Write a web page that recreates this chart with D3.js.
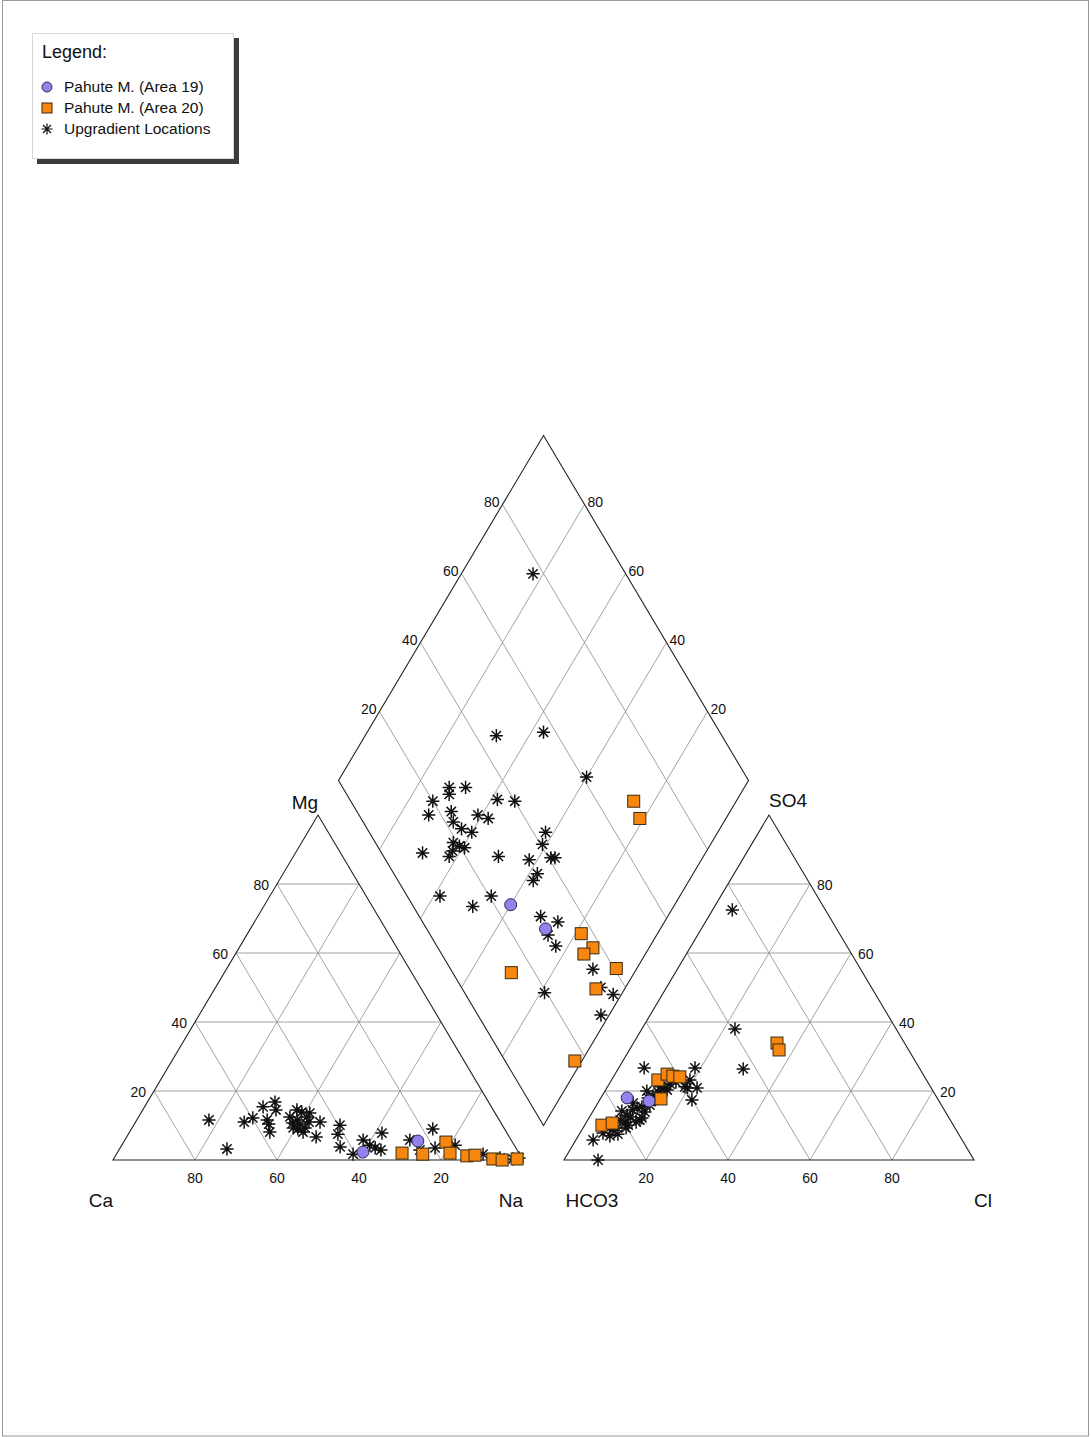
<!DOCTYPE html>
<html>
<head>
<meta charset="utf-8">
<script src="https://cdn.jsdelivr.net/npm/d3@7"></script>
<style>
  html, body { margin: 0; padding: 0; background: #fff; }
  svg { display: block; font-family: "Liberation Sans", Arial, sans-serif; }
</style>
</head>
<body>
<script>
// ---------------- DATA ----------------
const seriesNames = ["Pahute M. (Area 19)", "Pahute M. (Area 20)", "Upgradient Locations"];
const tickValues = [20, 40, 60, 80];
const cationLabels = ["Ca", "Mg", "Na"];
const anionLabels = ["HCO3", "SO4", "Cl"];

// Cation triangle: [Na+K %, Mg %]
const cationArea19 = [[59.8, 2.3], [71.6, 5.5]];
const cationArea20 = [[69.5, 2.0], [74.7, 1.7], [78.6, 5.2], [81.2, 2.0], [85.7, 1.2], [87.6, 1.4], [92.5, 0.3], [94.9, 0.0], [98.4, 0.3]];
const cationUpgradient = [
  [17.6, 11.6], [26.2, 3.2], [26.5, 11.0], [28.0, 12.2], [28.9, 15.4], [31.1, 16.8], [32.5, 14.5],
  [31.8, 11.6], [32.8, 10.4], [34.2, 8.1], [36.9, 12.5], [38.5, 10.7], [37.6, 14.5], [39.1, 13.9],
  [41.0, 12.5], [42.3, 11.0], [42.2, 9.3], [40.6, 9.0], [39.3, 9.3], [39.1, 11.6], [41.2, 13.6],
  [45.0, 11.0], [46.2, 6.7], [50.3, 10.1], [51.1, 7.5], [53.5, 3.8], [57.7, 1.7], [58.1, 5.8],
  [60.5, 4.3], [62.2, 3.5], [63.9, 2.9], [61.7, 7.8], [69.5, 5.8], [73.4, 2.9], [73.5, 9.0],
  [76.8, 3.5], [81.3, 4.3], [89.4, 1.7], [94.1, 0.6], [97.4, 0.3], [98.7, 0.6], [40.4, 10.4], [42.3, 8.1]
];

// Anion triangle: [Cl %, SO4 %]
const anionArea19 = [[6.4, 18.0], [12.2, 17.1]];
const anionArea20 = [[35.0, 33.9], [36.5, 31.9], [11.3, 23.2], [12.7, 24.9], [14.4, 24.3], [16.2, 24.1], [14.8, 17.7], [4.2, 10.1], [6.4, 10.7]];
const anionUpgradient = [
  [4.8, 72.5], [22.7, 38.0], [30.5, 26.4], [6.2, 26.7], [18.6, 26.7], [19.6, 20.9], [22.0, 20.9],
  [22.5, 17.4], [10.2, 20.0], [15.0, 20.3], [12.8, 21.2], [13.1, 19.7], [13.5, 17.4], [11.3, 15.4],
  [8.6, 16.5], [10.3, 15.1], [9.4, 14.5], [7.0, 14.2], [8.9, 13.0], [12.9, 12.2], [9.9, 12.5],
  [9.6, 10.7], [10.6, 10.1], [9.4, 7.5], [7.7, 7.0], [4.2, 5.8], [8.3, 0.0], [12.7, 11.6],
  [13.0, 15.9], [14.2, 20.9], [8.3, 9.3], [7.9, 11.6], [12.8, 13.9], [7.4, 8.7], [12.4, 18.6],
  [14.9, 22.0], [16.0, 22.6], [12.1, 11.0], [10.5, 9.3], [11.5, 18.0], [5.6, 7.8], [18.9, 21.2], [19.1, 23.2]
];

// Diamond: [Ca+Mg %, SO4+Cl %]
const diamondArea19 = [[40, 24], [28, 29]];
const diamondArea20 = [[25, 69], [21, 68], [18.6, 37], [13.7, 37.8], [15, 34.7], [30, 14.3], [5, 40.5], [7, 32.6], [1.7, 17]];
const diamondUpgradient = [
  [82.5, 77.4], [68, 45], [57, 57], [40, 61], [72, 26], [71, 25], [68, 30], [74, 20], [73, 17],
  [68, 23], [58.5, 36], [54, 40], [61, 29], [58, 31], [66, 22], [63, 23], [60, 25], [42, 43],
  [41, 40.5], [37, 40.6], [36, 41.6], [42, 35], [50, 28], [63, 19], [61, 20], [59.5, 21],
  [62, 17.6], [62, 16], [69, 10], [38, 35], [38, 33], [58.5, 8], [46, 20.5], [49, 14.5],
  [31, 29.6], [26, 33], [26.5, 28.7], [23, 29], [10.6, 34.7], [19, 19.5], [6, 34], [2, 36], [2, 30]
];

// ---------------- LAYOUT ----------------
const W = 1091, H = 1437;
const baseY = 1160, leftX = 113, gapUnits = 10;
const hx = d3.scaleLinear().domain([0, 100]).range([0, 410]);  // horizontal extent of 100 %
const vy = d3.scaleLinear().domain([0, 100]).range([0, 345]);  // vertical extent of 100 %
const rightX = leftX + hx(100 + gapUnits);
const diaBX = leftX + hx(100 + gapUnits / 2), diaBY = baseY - vy(gapUnits);

const cat = (na, mg) => [leftX + hx(na + mg / 2), baseY - vy(mg)];
const ani = (cl, so4) => [rightX + hx(cl + so4 / 2), baseY - vy(so4)];
const dia = (cm, sc) => [diaBX + hx((sc - cm) / 2), diaBY - vy(sc + cm)];

const svg = d3.select("body").append("svg").attr("width", W).attr("height", H);
svg.append("rect").attr("x", 2.5).attr("y", 0.5).attr("width", W - 5).attr("height", H - 1.5)
  .attr("fill", "#fff").attr("stroke", "#9a9a9a").attr("stroke-width", 1);

const line = d3.line();
const gridG = svg.append("g").attr("fill", "none").attr("stroke", "#8c8c8c").attr("stroke-width", 0.8);
const edgeG = svg.append("g").attr("fill", "none").attr("stroke", "#222").attr("stroke-width", 1.1);

function triangle(f) {
  // f(a, b): a = right-corner %, b = apex %
  tickValues.forEach(k => {
    gridG.append("path").attr("d", line([f(0, k), f(100 - k, k)]));  // horizontal (apex = k)
    gridG.append("path").attr("d", line([f(k, 0), f(k, 100 - k)]));  // right-corner = k
    gridG.append("path").attr("d", line([f(100 - k, 0), f(0, 100 - k)])); // left-corner = k
  });
  edgeG.append("path").attr("d", line([f(0, 0), f(100, 0), f(0, 100)]) + "Z");
}
triangle(cat);
triangle(ani);

// diamond
tickValues.forEach(k => {
  gridG.append("path").attr("d", line([dia(k, 0), dia(k, 100)]));
  gridG.append("path").attr("d", line([dia(0, k), dia(100, k)]));
});
edgeG.append("path").attr("d", line([dia(0, 0), dia(100, 0), dia(100, 100), dia(0, 100)]) + "Z");

// ---------------- LABELS ----------------
const txt = svg.append("g").attr("fill", "#111").attr("font-size", 14);
tickValues.forEach(k => {
  // cation: Mg on left edge, Ca on base
  let p = cat(0, k);
  txt.append("text").attr("x", p[0] - 8).attr("y", p[1] + 6).attr("text-anchor", "end").text(k);
  p = cat(100 - k, 0);
  txt.append("text").attr("x", p[0]).attr("y", p[1] + 23).attr("text-anchor", "middle").text(k);
  // anion: SO4 on right edge, Cl on base
  p = ani(100 - k, k);
  txt.append("text").attr("x", p[0] + 7).attr("y", p[1] + 6).attr("text-anchor", "start").text(k);
  p = ani(k, 0);
  txt.append("text").attr("x", p[0]).attr("y", p[1] + 23).attr("text-anchor", "middle").text(k);
  // diamond: SO4+Cl on upper-left edge, Ca+Mg on upper-right edge
  p = dia(100, k);
  txt.append("text").attr("x", p[0] - 3).attr("y", p[1] + 2).attr("text-anchor", "end").text(k);
  p = dia(k, 100);
  txt.append("text").attr("x", p[0] + 3).attr("y", p[1] + 2).attr("text-anchor", "start").text(k);
});

const big = svg.append("g").attr("fill", "#111").attr("font-size", 19);
let q = cat(0, 0);  big.append("text").attr("x", q[0] - 12).attr("y", q[1] + 47).attr("text-anchor", "middle").text(cationLabels[0]);
q = cat(100, 0);    big.append("text").attr("x", q[0] - 12).attr("y", q[1] + 47).attr("text-anchor", "middle").text(cationLabels[2]);
q = cat(0, 100);    big.append("text").attr("x", q[0] - 13).attr("y", q[1] - 6).attr("text-anchor", "middle").text(cationLabels[1]);
q = ani(0, 0);      big.append("text").attr("x", q[0] + 28).attr("y", q[1] + 47).attr("text-anchor", "middle").text(anionLabels[0]);
q = ani(100, 0);    big.append("text").attr("x", q[0] + 9).attr("y", q[1] + 47).attr("text-anchor", "middle").text(anionLabels[2]);
q = ani(0, 100);    big.append("text").attr("x", q[0] + 19).attr("y", q[1] - 8).attr("text-anchor", "middle").text(anionLabels[1]);

// ---------------- MARKERS ----------------
const starPath = (() => {
  const r = 6.6, p = d3.path();
  for (let i = 0; i < 4; i++) {
    const a = i * Math.PI / 4;
    p.moveTo(-r * Math.cos(a), -r * Math.sin(a));
    p.lineTo(r * Math.cos(a), r * Math.sin(a));
  }
  return p.toString();
})();

function drawStars(data, f) {
  svg.append("g").selectAll("path").data(data).join("path")
    .attr("transform", d => { const p = f(d[0], d[1]); return `translate(${p[0]},${p[1]})`; })
    .attr("d", starPath).attr("stroke", "#111").attr("stroke-width", 1.5).attr("fill", "none");
}
function drawSquares(data, f) {
  svg.append("g").selectAll("rect").data(data).join("rect")
    .attr("x", d => f(d[0], d[1])[0] - 6).attr("y", d => f(d[0], d[1])[1] - 6)
    .attr("width", 12).attr("height", 12)
    .attr("fill", "#f7870f").attr("stroke", "#3a2a10").attr("stroke-width", 1);
}
function drawCircles(data, f) {
  svg.append("g").selectAll("circle").data(data).join("circle")
    .attr("cx", d => f(d[0], d[1])[0]).attr("cy", d => f(d[0], d[1])[1]).attr("r", 6)
    .attr("fill", "#9382ec").attr("stroke", "#2a2a55").attr("stroke-width", 1);
}
drawStars(cationUpgradient, cat); drawStars(anionUpgradient, ani); drawStars(diamondUpgradient, dia);
drawSquares(cationArea20, cat); drawSquares(anionArea20, ani); drawSquares(diamondArea20, dia);
drawCircles(cationArea19, cat); drawCircles(anionArea19, ani); drawCircles(diamondArea19, dia);

// ---------------- LEGEND ----------------
const lg = svg.append("g");
lg.append("rect").attr("x", 37).attr("y", 38).attr("width", 202).attr("height", 126).attr("fill", "#3c3c3c");
lg.append("rect").attr("x", 32.5).attr("y", 33.5).attr("width", 201).attr("height", 125)
  .attr("fill", "#fff").attr("stroke", "#d8d8d8").attr("stroke-width", 1);
lg.append("text").attr("x", 42).attr("y", 58).attr("font-size", 18).attr("fill", "#111").text("Legend:");
const ly = [87, 108, 129];
lg.append("circle").attr("cx", 47).attr("cy", ly[0]).attr("r", 5).attr("fill", "#9382ec").attr("stroke", "#2a2a55");
lg.append("rect").attr("x", 42).attr("y", ly[1] - 5).attr("width", 10).attr("height", 10).attr("fill", "#f7870f").attr("stroke", "#3a2a10");
lg.append("path").attr("transform", `translate(47,${ly[2]}) scale(0.85)`).attr("d", starPath).attr("stroke", "#111").attr("stroke-width", 1.4);
seriesNames.forEach((s, i) => {
  lg.append("text").attr("x", 64).attr("y", ly[i] + 5).attr("font-size", 15.5).attr("fill", "#111").text(s);
});
</script>
</body>
</html>
